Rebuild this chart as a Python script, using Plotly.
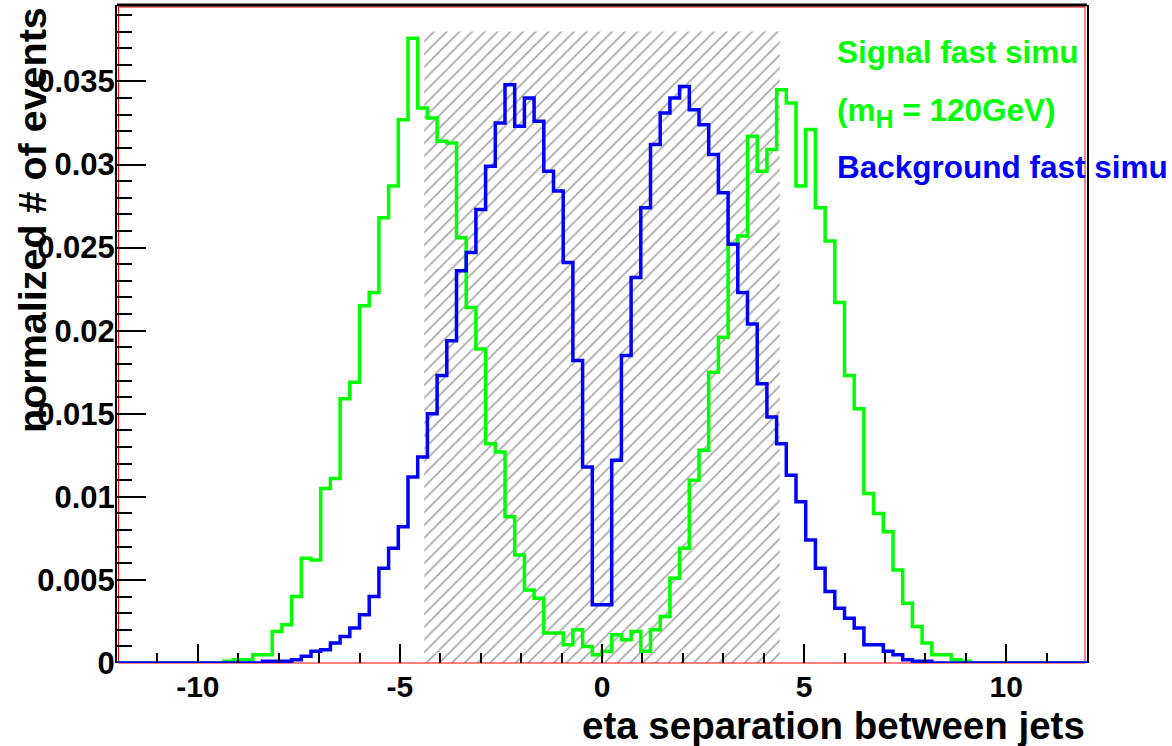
import numpy as np
import plotly.graph_objects as go

# Histogram binning: 100 bins over the eta-separation range
x_min, x_max, n_bins = -12.0, 12.0, 100

# Normalised bin contents, signal (m_H = 120 GeV) fast simulation
signal = [
    0, 0, 0, 0, 0, 0, 0, 0, 0, 0,
    0, 0.0001, 0.0002, 0.0002, 0.0005, 0.0005, 0.0019, 0.0023, 0.0040, 0.0063,
    0.0062, 0.0105, 0.0111, 0.0159, 0.0169, 0.0215, 0.0223, 0.0268, 0.0287, 0.0327,
    0.0376, 0.0334, 0.0328, 0.0314, 0.0313, 0.0256, 0.0214, 0.0189, 0.0132, 0.0127,
    0.0088, 0.0065, 0.0044, 0.0039, 0.0018, 0.0018, 0.0011, 0.0020, 0.0010, 0.0005,
    0.0007, 0.0017, 0.0014, 0.0019, 0.0007, 0.0020, 0.0028, 0.0051, 0.0069, 0.0110,
    0.0128, 0.0175, 0.0196, 0.0252, 0.0257, 0.0317, 0.0296, 0.0309, 0.0345, 0.0337,
    0.0287, 0.0321, 0.0274, 0.0254, 0.0217, 0.0173, 0.0153, 0.0102, 0.0090, 0.0079,
    0.0056, 0.0036, 0.0022, 0.0012, 0.0005, 0.0005, 0.0002, 0.0001, 0, 0,
    0, 0, 0, 0, 0, 0, 0, 0, 0, 0,
]

# Normalised bin contents, background fast simulation
background = [
    0, 0, 0, 0, 0, 0, 0, 0, 0, 0,
    0, 0, 0, 0, 0, 0.0001, 0.0001, 0.0001, 0.0002, 0.0004,
    0.0007, 0.0008, 0.0012, 0.0016, 0.0021, 0.0029, 0.0040, 0.0057, 0.0069, 0.0082,
    0.0112, 0.0124, 0.0150, 0.0173, 0.0194, 0.0236, 0.0247, 0.0273, 0.0299, 0.0325,
    0.0348, 0.0323, 0.0340, 0.0326, 0.0296, 0.0284, 0.0241, 0.0182, 0.0118, 0.0035,
    0.0035, 0.0122, 0.0185, 0.0232, 0.0274, 0.0312, 0.0331, 0.0340, 0.0347, 0.0333,
    0.0324, 0.0306, 0.0283, 0.0252, 0.0223, 0.0204, 0.0168, 0.0148, 0.0132, 0.0113,
    0.0097, 0.0074, 0.0057, 0.0043, 0.0033, 0.0027, 0.0021, 0.0011, 0.0011, 0.0007,
    0.0005, 0.0002, 0.0001, 0.0001, 0, 0, 0, 0, 0, 0,
    0, 0, 0, 0, 0, 0, 0, 0, 0, 0,
]

# Rejected eta-separation window (hatched band)
cut_low, cut_high, cut_top = -4.4, 4.4, 0.038

x_tick_vals = [-10, -5, 0, 5, 10]
x_tick_text = ["-10", "-5", "0", "5", "10"]
y_max = 0.0396

edges = np.linspace(x_min, x_max, n_bins + 1)


def step_xy(values):
    """Bin edges and contents laid out for an 'hv' step line."""
    xs = list(edges)
    ys = list(values) + [values[-1]]
    return xs, ys


FONT = "Liberation Sans, Arial, Helvetica, sans-serif"
GREEN = "#00ff00"
BLUE = "#0000ff"

fig = go.Figure()

# hatched window
fig.add_trace(go.Scatter(
    x=[cut_low, cut_high, cut_high, cut_low, cut_low],
    y=[0, 0, cut_top, cut_top, 0],
    mode="lines", line=dict(width=0),
    fill="toself", fillcolor="rgba(0,0,0,0)",
    fillpattern=dict(shape="/", fgcolor="#555555", bgcolor="rgba(0,0,0,0)",
                     size=9, solidity=0.2, fillmode="overlay"),
    hoverinfo="skip",
))

sx, sy = step_xy(signal)
fig.add_trace(go.Scatter(x=sx, y=sy, mode="lines", line_shape="hv",
                         line=dict(color=GREEN, width=3.5), name="Signal fast simu"))
bx, by = step_xy(background)
fig.add_trace(go.Scatter(x=bx, y=by, mode="lines", line_shape="hv",
                         line=dict(color=BLUE, width=3.5), name="Background fast simu"))

L, R, T, B = 117, 85, 5, 83
W, H = 1172, 746
pw, ph = W - L - R, H - T - B


def px_x(px):
    return (px - L) / pw


def px_y(py):
    return (H - B - py) / ph


fig.update_layout(
    width=W, height=H,
    margin=dict(l=L, r=R, t=T, b=B),
    plot_bgcolor="white", paper_bgcolor="white",
    showlegend=False,
    font=dict(family=FONT, color="black"),
    xaxis=dict(
        range=[x_min, x_max], showgrid=False, zeroline=False, showline=False,
        tickmode="array", tickvals=x_tick_vals, ticktext=x_tick_text,
        ticks="inside", ticklen=19, tickwidth=2, tickcolor="black",
        tickfont=dict(family=FONT, size=30, weight="bold", color="black"),
        ticklabelstandoff=3,
        minor=dict(tickmode="linear", tick0=0, dtick=1, ticks="inside",
                   ticklen=10, tickwidth=2, tickcolor="black"),
    ),
    yaxis=dict(
        range=[0, y_max], showgrid=False, zeroline=False,
        showline=True, linecolor="black", linewidth=2, mirror=True,
        tick0=0, dtick=0.005,
        ticks="inside", ticklen=29, tickwidth=2, tickcolor="black",
        tickfont=dict(family=FONT, size=31, weight="bold", color="black"),
        ticklabelstandoff=-6,
        minor=dict(tick0=0, dtick=0.001, ticks="inside",
                   ticklen=15, tickwidth=2, tickcolor="black"),
    ),
    shapes=[
        dict(type="rect", xref="paper", yref="paper",
             x0=px_x(L + 1.5), x1=px_x(L + pw - 2), y0=0, y1=px_y(T + 2),
             line=dict(color="red", width=1), layer="below"),
        dict(type="line", xref="paper", yref="paper", x0=0, x1=1, y0=1, y1=1,
             line=dict(color="black", width=3)),
    ],
    annotations=[
        dict(text="<b>normalized # of events</b>", xref="paper", yref="paper",
             x=px_x(32), y=1.0, xanchor="center", yanchor="top",
             textangle=-90, showarrow=False,
             font=dict(family=FONT, size=39.5, color="black")),
        dict(text="<b>eta separation between jets</b>", xref="paper", yref="paper",
             x=1.0, y=px_y(725), xanchor="right", yanchor="middle",
             showarrow=False, font=dict(family=FONT, size=38.5, color="black")),
        dict(text="<b>Signal fast simu</b>", xref="paper", yref="paper",
             x=px_x(835), y=px_y(52), xanchor="left", yanchor="middle",
             showarrow=False, font=dict(family=FONT, size=31.5, color=GREEN)),
        dict(text="<b>(m<sub><span style=\"font-size:25px\">H</span></sub> = 120GeV)</b>",
             xref="paper", yref="paper",
             x=px_x(835), y=px_y(113), xanchor="left", yanchor="middle",
             showarrow=False, font=dict(family=FONT, size=31.5, color=GREEN)),
        dict(text="<b>Background fast simu</b>", xref="paper", yref="paper",
             x=px_x(835), y=px_y(167), xanchor="left", yanchor="middle",
             showarrow=False, font=dict(family=FONT, size=31.5, color=BLUE)),
    ],
)

fig.write_html("out.html")
